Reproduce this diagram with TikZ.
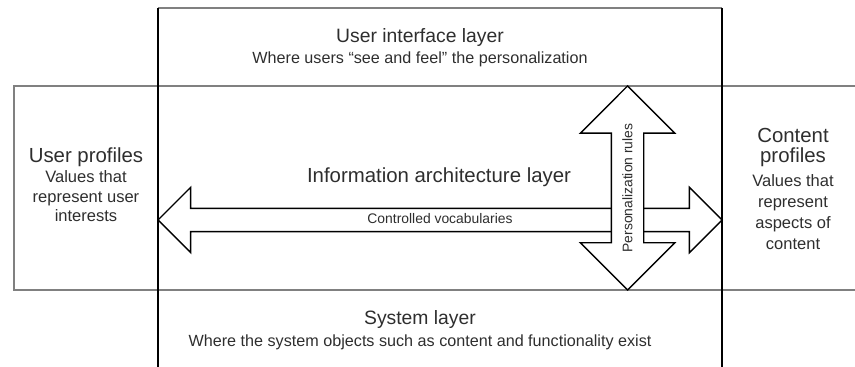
\documentclass[tikz,border=0pt]{standalone}
\usepackage{fontspec}
\setmainfont{Liberation Sans}
\usetikzlibrary{shapes.arrows,positioning}

\definecolor{inkgray}{HTML}{2E2E2E}
\definecolor{rulegray}{HTML}{808080}

\begin{document}
\begin{tikzpicture}[
  layertitle/.style={font=\fontsize{11}{13}\selectfont, text=inkgray,
    inner sep=0pt, anchor=base},
  layersub/.style={font=\fontsize{9.2}{11}\selectfont, text=inkgray,
    inner sep=0pt, anchor=base},
  sidetitle/.style={font=\fontsize{11.6}{12}\selectfont, text=inkgray,
    inner sep=0pt, anchor=base, align=center},
  sidenote/.style={font=\fontsize{9.4}{11.6}\selectfont, text=inkgray,
    inner sep=0pt, anchor=base, align=center},
  band/.style={draw=rulegray, line width=0.9pt},
  divider/.style={draw=black, line width=0.8pt},
  blockarrow/.style={draw, line width=0.8pt, fill=white, double arrow,
    double arrow tip angle=90, inner xsep=0pt, minimum width=1pt,
    font=\fontsize{7.9}{9}\selectfont, text=inkgray},
]
\useasboundingbox (0,0) rectangle (17.1,7.34);

% frame of the layers
\coordinate (uiL) at (3.16,7.18);
\coordinate (uiR) at (14.44,7.18);
\coordinate (midTL) at (0.28,5.62);
\coordinate (midTR) at (17.1,5.62);
\coordinate (midBL) at (0.28,1.54);
\coordinate (midBR) at (17.1,1.54);
\coordinate (sysL) at (3.16,0);
\coordinate (sysR) at (14.44,0);
\draw[band] (uiL) -- (uiR);
\draw[band] (midTR) -- (midTL) -- (midBL) -- (midBR);
\draw[divider] (uiL) -- (sysL);
\draw[divider] (uiR) -- (sysR);

% layer texts
\node[layertitle] (ui) at (8.4,6.48) {User interface layer};
\node[layersub] (uisub) at (8.4,6.06) {Where users “see and feel” the personalization};
\node[sidetitle] (ia) at (8.78,3.68) {Information architecture layer};
\node[layertitle] (sys) at (8.4,0.84) {System layer};
\node[layersub] (syssub) at (8.4,0.40) {Where the system objects such as content and functionality exist};

% side boxes (base = last line)
\node[sidetitle] (user) at (1.72,4.08) {User profiles};
\node[sidenote, font=\fontsize{9.4}{11.1}\selectfont] (usernote) at (1.72,2.90)
  {Values that\\represent user\\interests};
\node[sidetitle, font=\fontsize{11.6}{11.9}\selectfont] (content) at (15.86,4.08)
  {Content\\profiles};
\node[sidenote, font=\fontsize{9.4}{12.1}\selectfont] (contentnote) at (15.86,2.34)
  {Values that\\represent\\aspects of\\content};

% block arrows
\node[blockarrow, minimum height=11.28cm, double arrow head extend=0.42cm,
  inner ysep=2.43pt, text height=6pt, text depth=1.6pt] (vocab) at (8.8,2.94)
  {Controlled vocabularies};
\node[blockarrow, rotate=90, minimum height=4.08cm, double arrow head extend=0.62cm,
  inner ysep=0.31cm] (rules) at (12.55,3.58) {};
\node[font=\fontsize{7.9}{9}\selectfont, text=inkgray, rotate=90] (ruleslabel)
  at (rules.center) {Personalization rules};
\end{tikzpicture}
\end{document}
